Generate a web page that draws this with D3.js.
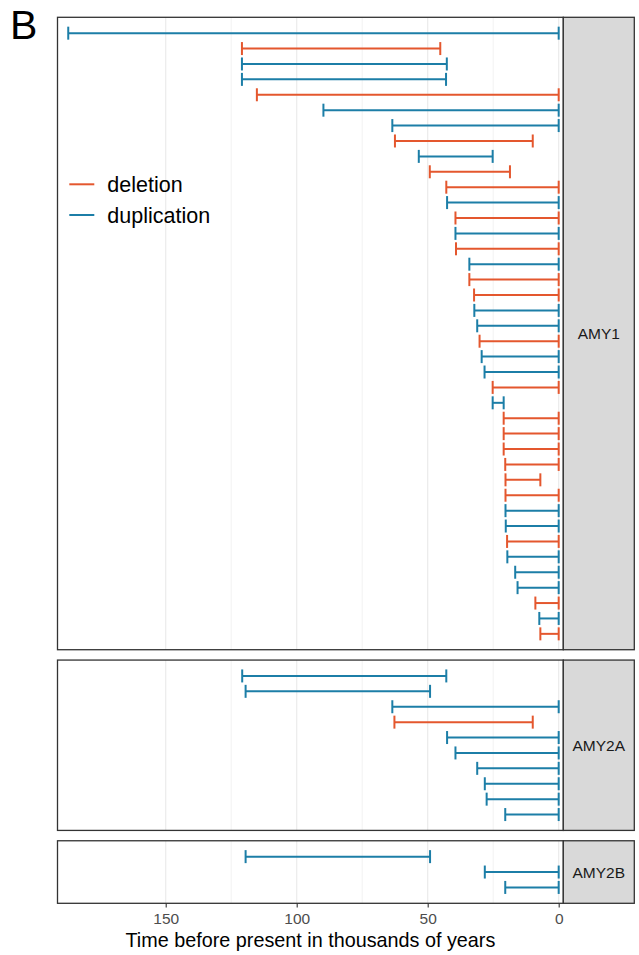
<!DOCTYPE html>
<html>
<head>
<meta charset="utf-8">
<script src="https://cdn.jsdelivr.net/npm/d3@7"></script>
<style>
  html, body { margin: 0; padding: 0; background: #fff; }
  svg { display: block; font-family: "Liberation Sans", Arial, Helvetica, sans-serif; }
</style>
</head>
<body>
<svg id="chart" width="639" height="955"></svg>
<script>
// ---- data: estimated age ranges (thousands of years before present) ----
const genes = ["AMY1", "AMY2A", "AMY2B"];
const eventTypes = ["deletion", "duplication"];
const xTicks = [150, 100, 50, 0];
const xMinorTicks = [125, 75, 25];

// AMY1 events, top to bottom
const amy1Type = ["duplication","deletion","duplication","duplication","deletion","duplication","duplication","deletion","duplication","deletion",
                  "deletion","duplication","deletion","duplication","deletion","duplication","deletion","deletion","duplication","duplication",
                  "deletion","duplication","duplication","deletion","duplication","deletion","deletion","deletion","deletion","deletion",
                  "deletion","duplication","duplication","deletion","duplication","duplication","duplication","deletion","duplication","deletion"];
const amy1Oldest = [187.2,120.9,120.9,120.9,115.2,89.8,63.5,62.5,53.4,49.2,
                    42.9,42.6,39.4,39.4,39.2,34.1,34.1,32.3,32.2,31.1,
                    30.2,29.4,28.3,25.2,25.2,21.0,21.0,21.0,20.4,20.3,
                    20.3,20.3,20.2,19.7,19.6,16.6,15.7,8.9,7.4,7.0];
const amy1Youngest = [0,45.2,42.7,43.0,0,0,0,9.9,25.2,18.6,
                      0,0,0,0,0,0,0,0,0,0,
                      0,0,0,0,21.0,0,0,0,0,7.0,
                      0,0,0,0,0,0,0,0,0,0];

// AMY2A events
const amy2aType = ["duplication","duplication","duplication","deletion","duplication","duplication","duplication","duplication","duplication","duplication"];
const amy2aOldest = [120.8,119.5,63.5,62.7,42.6,39.4,31.1,28.2,27.5,20.4];
const amy2aYoungest = [42.9,49.1,0,9.9,0,0,0,0,0,0];

// AMY2B events
const amy2bType = ["duplication","duplication","duplication"];
const amy2bOldest = [119.5,28.2,20.4];
const amy2bYoungest = [49.1,0,0];

const typeColor = d3.scaleOrdinal().domain(eventTypes).range(["#E4572E", "#1C7EA7"]);

// rows per facet
const facets = [
  { gene: genes[0], type: amy1Type, from: amy1Oldest, to: amy1Youngest },
  { gene: genes[1], type: amy2aType, from: amy2aOldest, to: amy2aYoungest },
  { gene: genes[2], type: amy2bType, from: amy2bOldest, to: amy2bYoungest }
].map(f => ({
  gene: f.gene,
  rows: f.type.map((t, i) => ({ id: f.gene + "-" + i, type: t, from: f.from[i], to: f.to[i] }))
}));

// ---- layout ----
const svg = d3.select("#chart");
const panelLeft = 57.5, panelRight = 563.3, stripRight = 634.3;
const plotTop = 17.3, plotBottom = 903.3, panelGap = 10.35;
const rowPad = 1.03; // outer padding in row steps

const x = d3.scaleLinear().domain([191.3, -1.76]).range([panelLeft, panelRight]);

// panel heights proportional to their number of rows (free y space)
const units = facets.map(f => f.rows.length - 1 + 2 * rowPad);
const totalUnits = d3.sum(units);
const step = (plotBottom - plotTop - panelGap * (facets.length - 1)) / totalUnits;
let cursor = plotTop;
facets.forEach((f, i) => {
  f.top = cursor;
  f.bottom = cursor + units[i] * step;
  cursor = f.bottom + panelGap;
  f.y = d3.scalePoint().domain(f.rows.map(r => r.id)).range([f.top, f.bottom]).padding(rowPad);
});

const capHalf = 6.5;

facets.forEach(f => {
  const g = svg.append("g").attr("class", "panel");

  // background
  g.append("rect")
    .attr("x", panelLeft).attr("y", f.top)
    .attr("width", panelRight - panelLeft).attr("height", f.bottom - f.top)
    .attr("fill", "#fff");

  // grid
  g.selectAll("line.minor").data(xMinorTicks).join("line")
    .attr("class", "minor")
    .attr("x1", d => x(d)).attr("x2", d => x(d))
    .attr("y1", f.top).attr("y2", f.bottom)
    .attr("stroke", "#EBEBEB").attr("stroke-width", 0.6);
  g.selectAll("line.major").data(xTicks).join("line")
    .attr("class", "major")
    .attr("x1", d => x(d)).attr("x2", d => x(d))
    .attr("y1", f.top).attr("y2", f.bottom)
    .attr("stroke", "#EBEBEB").attr("stroke-width", 1.2);

  // error bars
  const bars = g.selectAll("g.bar").data(f.rows).join("g").attr("class", "bar")
    .attr("stroke", d => typeColor(d.type)).attr("stroke-width", 2).attr("fill", "none");
  bars.append("line")
    .attr("x1", d => x(d.from)).attr("x2", d => x(d.to))
    .attr("y1", d => f.y(d.id)).attr("y2", d => f.y(d.id));
  bars.append("line")
    .attr("x1", d => x(d.from)).attr("x2", d => x(d.from))
    .attr("y1", d => f.y(d.id) - capHalf).attr("y2", d => f.y(d.id) + capHalf);
  bars.append("line")
    .attr("x1", d => x(d.to)).attr("x2", d => x(d.to))
    .attr("y1", d => f.y(d.id) - capHalf).attr("y2", d => f.y(d.id) + capHalf);

  // panel border
  g.append("rect")
    .attr("x", panelLeft).attr("y", f.top)
    .attr("width", panelRight - panelLeft).attr("height", f.bottom - f.top)
    .attr("fill", "none").attr("stroke", "#333").attr("stroke-width", 1.3);

  // strip
  g.append("rect")
    .attr("x", panelRight).attr("y", f.top)
    .attr("width", stripRight - panelRight).attr("height", f.bottom - f.top)
    .attr("fill", "#D9D9D9").attr("stroke", "#333").attr("stroke-width", 1.3);
  g.append("text")
    .attr("x", (panelRight + stripRight) / 2)
    .attr("y", (f.top + f.bottom) / 2)
    .attr("text-anchor", "middle").attr("dominant-baseline", "central")
    .attr("font-size", 15.5).attr("fill", "#1A1A1A")
    .text(f.gene);
});

// x axis
const axis = svg.append("g")
  .attr("transform", `translate(0,${plotBottom})`)
  .call(d3.axisBottom(x).tickValues(xTicks).tickSize(4.2).tickPadding(5.8).tickFormat(d3.format("d")));
axis.select(".domain").remove();
axis.selectAll(".tick line").attr("stroke", "#333").attr("stroke-width", 1.1);
axis.selectAll(".tick text")
  .attr("font-size", 15.5).attr("fill", "#4D4D4D")
  .attr("font-family", "Liberation Sans, Arial, Helvetica, sans-serif");

svg.append("text")
  .attr("x", (panelLeft + panelRight) / 2).attr("y", 946.7)
  .attr("text-anchor", "middle").attr("font-size", 19.8).attr("fill", "#000")
  .text("Time before present in thousands of years");

// legend
const legend = svg.append("g").attr("class", "legend");
const legendItems = legend.selectAll("g").data(eventTypes).join("g")
  .attr("transform", (d, i) => `translate(0,${184.3 + i * 30.7})`);
legendItems.append("line")
  .attr("x1", 69.3).attr("x2", 94.3).attr("y1", 0).attr("y2", 0)
  .attr("stroke", d => typeColor(d)).attr("stroke-width", 2);
legendItems.append("text")
  .attr("x", 107.3).attr("y", 8)
  .attr("font-size", 21.5).attr("fill", "#000")
  .text(d => d);

// panel tag
svg.append("text")
  .attr("x", 10).attr("y", 39)
  .attr("font-size", 41).attr("fill", "#000")
  .text("B");
</script>
</body>
</html>
